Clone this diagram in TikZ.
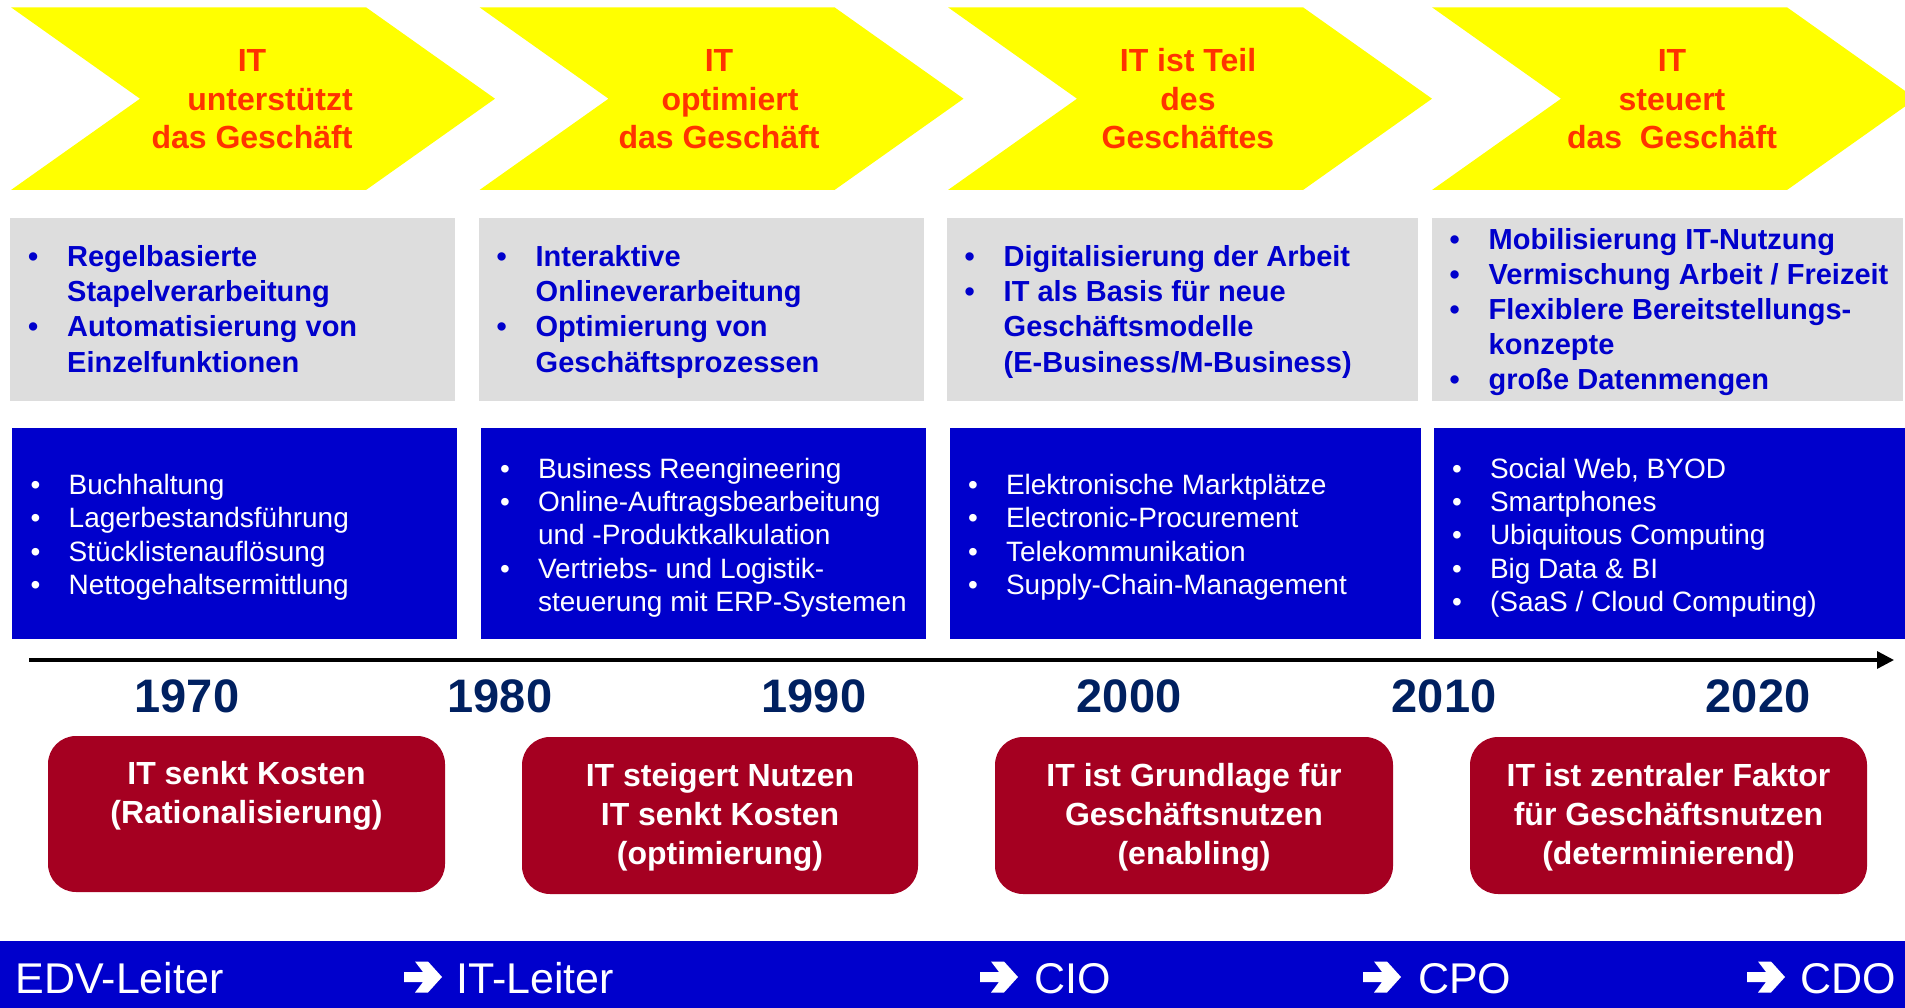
\documentclass[tikz,border=0pt]{standalone}
\usepackage{fontspec}
\setmainfont{Liberation Sans}
\usetikzlibrary{arrows.meta}
\definecolor{chevY}{HTML}{FFFF00}
\definecolor{chevT}{HTML}{FF3300}
\definecolor{greyB}{HTML}{DDDDDD}
\definecolor{blueB}{HTML}{0000CC}
\definecolor{redB}{HTML}{A50021}
\definecolor{navyY}{HTML}{002060}
\newcommand\bl{\makebox[39pt][l]{•}}
\newcommand\cl{\hspace*{39pt}}
\newcommand\bw{\makebox[38pt][l]{•}}
\newcommand\cw{\hspace*{38pt}}
\newcommand\greytxt[1]{\parbox[t]{470pt}{\raggedright\bfseries\fontsize{29}{35}\selectfont #1}}
\newcommand\bluetxt[1]{\parbox[t]{470pt}{\raggedright\fontsize{28}{33.4}\selectfont #1}}
\newcommand\chevtxt[1]{\parbox[t]{340pt}{\centering\bfseries\fontsize{32}{38.5}\selectfont #1}}
\newcommand\redtxt[1]{\parbox[t]{400pt}{\centering\bfseries\fontsize{32}{39}\selectfont #1}}
\newcommand\chevron[1]{\fill[chevY] (#1,7.3) -- ++(355,0) -- ++(129,91.4) -- ++(-129,91.3) -- ++(-355,0) -- ++(129,-91.3) -- cycle;}
\newcommand\barrow[1]{\fill[white,shift={(#1,961.5)}] (0,10.5) -- (19,10.5) -- (11,0) -- (24,0) -- (38,15.5) -- (24,31) -- (11,31) -- (19,20.5) -- (0,20.5) -- cycle;}
\begin{document}
\begin{tikzpicture}[x=1pt,y=-1pt,
  boxbase/.style={inner sep=0pt, outer sep=0pt, anchor=north west},
  greybox/.style={boxbase, fill=greyB},
  bluebox/.style={boxbase, fill=blueB},
  redbox/.style={boxbase, fill=redB, rounded corners=28pt},
  listtext/.style={inner sep=0pt, anchor=base west},
  glist/.style={listtext, text=blueB},
  wlist/.style={listtext, text=white},
  chevlabel/.style={inner sep=0pt, anchor=base, text=chevT},
  redlabel/.style={inner sep=0pt, anchor=base, text=white},
  year/.style={inner sep=0pt, anchor=base, text=navyY, font=\bfseries\fontsize{47}{56}\selectfont},
  barlabel/.style={inner sep=0pt, anchor=base west, text=white, font=\fontsize{43}{50}\selectfont}
]
\useasboundingbox (0,0) rectangle (1905,1008);

% chevrons
\chevron{11}
\chevron{479.5}
\chevron{948}
\chevron{1432}
\node[chevlabel] (c1) at (252,71.7) {\chevtxt{IT\\ \hspace*{36pt}unterstützt\\ das Geschäft}};
\node[chevlabel] (c2) at (719,71.7) {\chevtxt{IT\\ \hspace*{22pt}optimiert\\ das Geschäft}};
\node[chevlabel] (c3) at (1188,71.7) {\chevtxt{IT ist Teil\\ des\\ Geschäftes}};
\node[chevlabel] (c4) at (1672,71.7) {\chevtxt{IT\\ steuert\\ das\ \ Geschäft}};

% grey boxes
\node[greybox, minimum width=445pt, minimum height=183pt] (g1) at (10,218) {};
\node[greybox, minimum width=444.5pt, minimum height=183pt] (g2) at (479,218) {};
\node[greybox, minimum width=471pt, minimum height=183pt] (g3) at (947,218) {};
\node[greybox, minimum width=471pt, minimum height=183pt] (g4) at (1432,218) {};
\node[glist] (gt1) at (28,267) {\greytxt{\bl Regelbasierte\\ \cl Stapelverarbeitung\\ \bl Automatisierung von\\ \cl Einzelfunktionen}};
\node[glist] (gt2) at (496.5,267) {\greytxt{\bl Interaktive\\ \cl Onlineverarbeitung\\ \bl Optimierung von\\ \cl Geschäftsprozessen}};
\node[glist] (gt3) at (964.5,267) {\greytxt{\bl Digitalisierung der Arbeit\\ \bl IT als Basis für neue\\ \cl Geschäftsmodelle\\ \cl (E-Business/M-Business)}};
\node[glist] (gt4) at (1449.5,250) {\greytxt{\bl Mobilisierung IT-Nutzung\\ \bl Vermischung Arbeit / Freizeit\\ \bl Flexiblere Bereitstellungs-\\ \cl konzepte\\ \bl große Datenmengen}};

% blue boxes
\node[bluebox, minimum width=445pt, minimum height=211pt] (b1) at (12,427.5) {};
\node[bluebox, minimum width=445pt, minimum height=211pt] (b2) at (481,427.5) {};
\node[bluebox, minimum width=471pt, minimum height=211pt] (b3) at (950,427.5) {};
\node[bluebox, minimum width=471pt, minimum height=211pt] (b4) at (1434,427.5) {};
\node[wlist] (bt1) at (30.5,494.5) {\bluetxt{\bw Buchhaltung\\ \bw Lagerbestandsführung\\ \bw Stücklistenauflösung\\ \bw Nettogehaltsermittlung}};
\node[wlist] (bt2) at (499.8,478) {\bluetxt{\bw Business Reengineering\\ \bw Online-Auftragsbearbeitung\\ \cw und -Produktkalkulation\\ \bw Vertriebs- und Logistik-\\ \cw steuerung mit ERP-Systemen}};
\node[wlist] (bt3) at (967.8,494.5) {\bluetxt{\bw Elektronische Marktplätze\\ \bw Electronic-Procurement\\ \bw Telekommunikation\\ \bw Supply-Chain-Management}};
\node[wlist] (bt4) at (1451.8,478) {\bluetxt{\bw Social Web, BYOD\\ \bw Smartphones\\ \bw Ubiquitous Computing\\ \bw Big Data \& BI\\ \bw (SaaS / Cloud Computing)}};

% time axis
\coordinate (axs) at (29,660);
\coordinate (axe) at (1894,660);
\draw[line width=3.3pt, -{Triangle[length=17pt,width=17pt]}] (axs) -- (axe);

% years
\node[year] (y1970) at (187,712.5) {1970};
\node[year] (y1980) at (500,712.5) {1980};
\node[year] (y1990) at (814,712.5) {1990};
\node[year] (y2000) at (1129,712.5) {2000};
\node[year] (y2010) at (1444,712.5) {2010};
\node[year] (y2020) at (1758,712.5) {2020};

% red boxes
\node[redbox, minimum width=397pt, minimum height=156pt] (r1) at (48,736) {};
\node[redbox, minimum width=396pt, minimum height=157pt] (r2) at (522,737) {};
\node[redbox, minimum width=398pt, minimum height=157pt] (r3) at (995,737) {};
\node[redbox, minimum width=397pt, minimum height=157pt] (r4) at (1470,737) {};
\node[redlabel] (rt1) at (246.5,784) {\redtxt{IT senkt Kosten\\ (Rationalisierung)}};
\node[redlabel] (rt2) at (720,786) {\redtxt{IT steigert Nutzen\\ IT senkt Kosten\\ (optimierung)}};
\node[redlabel] (rt3) at (1194,786) {\redtxt{IT ist Grundlage für\\ Geschäftsnutzen\\ (enabling)}};
\node[redlabel] (rt4) at (1668.5,786) {\redtxt{IT ist zentraler Faktor\\ für Geschäftsnutzen\\ (determinierend)}};

% bottom bar
\node[bluebox, minimum width=1905pt, minimum height=67pt] (bar) at (0,941) {};
\node[barlabel] (l1) at (15.5,993) {EDV-Leiter};
\barrow{404}
\node[barlabel] (l2) at (456,993) {IT-Leiter};
\barrow{980}
\node[barlabel] (l3) at (1034,993) {CIO};
\barrow{1363}
\node[barlabel] (l4) at (1418,993) {CPO};
\barrow{1747}
\node[barlabel] (l5) at (1800,993) {CDO};
\end{tikzpicture}
\end{document}
